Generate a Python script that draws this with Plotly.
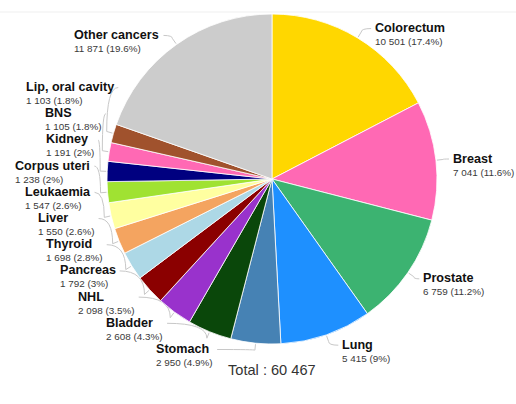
import math
import plotly.graph_objects as go

# ---------------- data ----------------
categories = ["Colorectum", "Breast", "Prostate", "Lung", "Stomach", "Bladder", "NHL",
              "Pancreas", "Thyroid", "Liver", "Leukaemia", "Corpus uteri", "Kidney",
              "BNS", "Lip, oral cavity", "Other cancers"]
cases = [10501, 7041, 6759, 5415, 2950, 2608, 2098, 1792, 1698, 1550, 1547, 1238,
         1191, 1105, 1103, 11871]
colors = ["#FFD700", "#FF69B4", "#3CB371", "#1E90FF", "#4682B4", "#0A470A", "#9932CC",
          "#8B0000", "#ADD8E6", "#F4A460", "#FFFFA0", "#A0E232", "#000080", "#FF69B4",
          "#A0522D", "#CCCCCC"]

# ---------------- layout geometry ----------------
W_FIG, H_FIG = 516, 404
ML, MR, MT, MB = 28, 0, 14, 60
PW, PH = W_FIG - ML - MR, H_FIG - MT - MB
CX, CY = ML + PW / 2, MT + PH / 2
R = min(PW, PH) / 2

FONT = "Liberation Sans, Arial, Helvetica, sans-serif"


def px2paper(x, y):
    return (x - ML) / PW, 1 - (y - MT) / PH


def fmt(n):
    return f"{n:,}".replace(",", " ")


def pct(v, t):
    s = f"{v / t * 100:.1f}"
    return s[:-2] if s.endswith(".0") else s


total = sum(cases)

# mid angles (clockwise from 12 o'clock)
mids = []
cum = 0
for v in cases:
    mids.append((cum + v / 2) / total * 2 * math.pi)
    cum += v

R_Y = R + 11
Y_OFF = 5.5
X_OFF = 4.5
GAP = 26.2
Y_MAX = CY + R + 11
R_X = R + 16

ys = [None] * len(cases)
# left side: from bottom upward
prev = None
for i in sorted([i for i, a in enumerate(mids) if a > math.pi], key=lambda i: mids[i]):
    nat = CY - R_Y * math.cos(mids[i]) + Y_OFF
    y = min(nat, Y_MAX)
    if prev is not None:
        y = min(y, prev - GAP)
    ys[i] = y
    prev = y
# right side: from top downward
prev = None
for i in sorted([i for i, a in enumerate(mids) if a <= math.pi], key=lambda i: mids[i]):
    nat = CY - R_Y * math.cos(mids[i]) + Y_OFF
    y = min(nat, Y_MAX)
    if prev is not None:
        y = max(y, prev + GAP)
    ys[i] = y
    prev = y

annotations = []
shapes = []
for i, (name, v) in enumerate(zip(categories, cases)):
    a = mids[i]
    right = a <= math.pi
    y = ys[i]
    dy = y - X_OFF - CY
    dx = math.sqrt(max(R_X ** 2 - dy ** 2, 0))
    x = CX + dx if right else CX - dx
    text = (f"<span style='font-size:12.6px;color:#111111'><b>{name}</b></span><br>"
            f"<span style='font-size:9.9px;color:#3a3a3a'>{fmt(v)} ({pct(v, total)}%)</span>")
    px_, py_ = px2paper(x, y)
    annotations.append(dict(
        x=px_, y=py_, xref="paper", yref="paper", text=text, showarrow=False,
        xanchor="left" if right else "right", yanchor="middle", align="left",
        borderpad=0, font=dict(family=FONT, size=10.2, color="#111111")))
    # connector
    p0 = (CX + (R + 1) * math.sin(a), CY - (R + 1) * math.cos(a))
    p1 = (CX + (R + 7) * math.sin(a), CY - (R + 7) * math.cos(a))
    p2 = (x - 3 if right else x + 3, y - Y_OFF)
    ctrl = (p1[0], p2[1])
    pts = [px2paper(*p) for p in (p0, p1, ctrl, p2)]
    path = (f"M {pts[0][0]:.5f} {pts[0][1]:.5f} L {pts[1][0]:.5f} {pts[1][1]:.5f} "
            f"Q {pts[2][0]:.5f} {pts[2][1]:.5f} {pts[3][0]:.5f} {pts[3][1]:.5f}")
    shapes.append(dict(type="path", path=path, xref="paper", yref="paper",
                       line=dict(color="#C8C8C8", width=1), layer="below"))

# faint top rule
x0p, yp = px2paper(0, 12)
x1p, _ = px2paper(W_FIG, 12)
shapes.append(dict(type="line", x0=x0p, x1=x1p, y0=yp, y1=yp, xref="paper", yref="paper",
                   line=dict(color="#EFEFEF", width=1)))

tx, ty = px2paper(CX, 370)
annotations.append(dict(x=tx, y=ty, xref="paper", yref="paper", showarrow=False,
                        text=f"Total : {fmt(total)}", xanchor="center", yanchor="middle",
                        font=dict(family=FONT, size=14.6, color="#333333")))

fig = go.Figure(go.Pie(
    labels=categories, values=cases, sort=False, direction="clockwise", rotation=0,
    marker=dict(colors=colors, line=dict(color="rgba(255,255,255,0.8)", width=1)),
    textinfo="none", hoverinfo="label+value+percent", showlegend=False,
    domain=dict(x=[0, 1], y=[0, 1])))

fig.update_layout(
    width=W_FIG, height=H_FIG,
    margin=dict(l=ML, r=MR, t=MT, b=MB, pad=0, autoexpand=False),
    paper_bgcolor="white", plot_bgcolor="white",
    annotations=annotations, shapes=shapes,
    font=dict(family=FONT),
)

fig.write_html("out.html")
